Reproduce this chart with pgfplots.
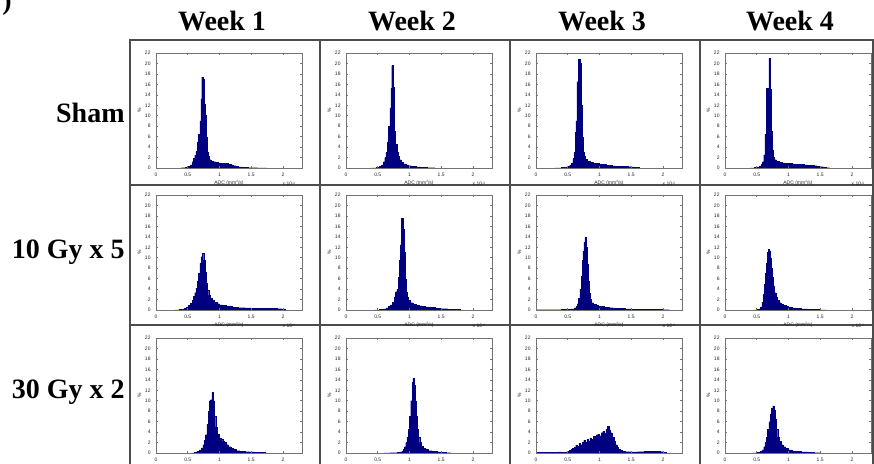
\documentclass[border=0pt]{standalone}
\usepackage{fontspec}
\setmainfont{Liberation Serif}
\newfontfamily\hel{Liberation Sans}
\usepackage{pgfplots}
\pgfplotsset{compat=1.18}
\definecolor{navyb}{RGB}{0,0,128}
\newcommand\tinyf{\hel\fontsize{2.5}{2.8}\selectfont}
\newcommand\supf[1]{\raisebox{0.9pt}{\hel\fontsize{1.6}{1.8}\selectfont #1}}
\pgfplotsset{
  adc/.style={
    scale only axis, width=73pt, height=57.5pt, anchor=south west,
    xmin=0, xmax=2.3, ymin=0, ymax=22,
    xtick={0,0.5,1,1.5,2}, xticklabels={0,0.5,1,1.5,2},
    ytick={0,2,...,22},
    tick align=inside, major tick length=1.1pt,
    axis line style={black!55, line width=0.3pt},
    every tick/.style={black!55, line width=0.25pt},
    tick label style={font=\tinyf, text=black!85},
    xticklabel style={yshift=0.8pt},
    yticklabel style={xshift=0.8pt},
    /pgf/number format/assume math mode=true,
    xlabel={ADC (mm\supf{2}/s)}, ylabel={\%},
    label style={font=\tinyf, text=black!85},
    xlabel style={yshift=5.2pt},
    ylabel style={yshift=-5pt},
    axis on top,
    after end axis/.code={\node[font=\tinyf, text=black!85, anchor=north east] at (rel axis cs:1,0) [yshift=-3.4pt] {x 10\supf{-3}};},
  },
  bars/.style={ybar interval, fill=navyb, draw=navyb, line width=0.1pt},
}
\begin{document}
\begin{tikzpicture}
\useasboundingbox (0,0) rectangle (437pt,232pt);
\clip (0,0) rectangle (437pt,232pt);
% titles and row names
\begin{scope}[every node/.style={font=\fontsize{14}{16}\selectfont\bfseries}]
\node[anchor=base] at (111pt,216.5pt) {Week 1};
\node[anchor=base] at (206pt,216.5pt) {Week 2};
\node[anchor=base] at (301pt,216.5pt) {Week 3};
\node[anchor=base] at (395pt,216.5pt) {Week 4};
\node[anchor=east, inner sep=0pt] at (62.5pt,175.5pt) {Sham};
\node[anchor=east, inner sep=0pt] at (62.5pt,106pt) {10 Gy x 5};
\node[anchor=east, inner sep=0pt] at (62.5pt,36pt) {30 Gy x 2};
\node[anchor=base west, inner sep=0pt] at (1pt,227pt) {)};
\end{scope}
% panel frame
\draw[black!70, line width=0.7pt] (65pt,212pt) rectangle (436.5pt,-10pt);
\foreach \xx in {160,255,350} \draw[black!70, line width=0.7pt] (\xx pt,212pt) -- (\xx pt,-10pt);
\foreach \yy in {139.5,69.5} \draw[black!70, line width=0.7pt] (65pt,\yy pt) -- (436.5pt,\yy pt);

% Sham
\begin{axis}[adc, at={(78pt,148pt)}]
\addplot[bars] coordinates {(0.40,0.05)(0.46,0.15)(0.50,0.3)(0.54,0.6)(0.57,1.2)(0.59,1.8)(0.61,2.4)(0.63,3.2)(0.65,5.0)(0.67,6.5)(0.69,9.0)(0.705,13.2)(0.72,17.4)(0.74,17.0)(0.76,12.3)(0.775,10.2)(0.79,6.0)(0.805,3.0)(0.82,2.2)(0.84,1.6)(0.87,1.3)(0.90,1.2)(0.94,1.1)(0.98,1.0)(1.02,0.95)(1.06,0.9)(1.10,0.85)(1.14,0.75)(1.18,0.6)(1.22,0.45)(1.26,0.3)(1.30,0.2)(1.35,0.1)(1.45,0.05)(1.60,0.03)(1.75,0)};
\end{axis}
\begin{axis}[adc, at={(173pt,148pt)}]
\addplot[bars] coordinates {(0.40,0.03)(0.48,0.1)(0.52,0.3)(0.56,0.6)(0.59,1.2)(0.61,2.0)(0.63,3.0)(0.65,5.0)(0.67,8.0)(0.69,11.5)(0.705,15.3)(0.72,19.6)(0.735,15.5)(0.75,11.0)(0.765,7.0)(0.78,4.5)(0.80,3.0)(0.82,2.2)(0.84,1.6)(0.87,1.1)(0.90,0.8)(0.94,0.6)(0.98,0.45)(1.03,0.3)(1.10,0.2)(1.18,0.1)(1.28,0.05)(1.40,0)};
\end{axis}
\begin{axis}[adc, at={(268pt,148pt)}]
\addplot[bars] coordinates {(0.30,0.03)(0.40,0.08)(0.46,0.15)(0.50,0.3)(0.53,0.6)(0.56,1.0)(0.58,1.8)(0.60,3.0)(0.615,6.8)(0.63,9.0)(0.645,16.5)(0.665,20.8)(0.69,20.0)(0.705,12.0)(0.72,6.0)(0.735,3.0)(0.75,2.2)(0.77,1.7)(0.80,1.3)(0.85,1.1)(0.90,0.95)(0.95,0.85)(1.00,0.75)(1.05,0.65)(1.10,0.55)(1.15,0.5)(1.20,0.4)(1.25,0.35)(1.30,0.3)(1.35,0.3)(1.40,0.3)(1.45,0.25)(1.50,0.2)(1.55,0.1)(1.62,0)};
\end{axis}
\begin{axis}[adc, at={(362.5pt,148pt)}]
\addplot[bars] coordinates {(0.40,0.03)(0.46,0.08)(0.50,0.2)(0.54,0.4)(0.57,0.7)(0.59,1.2)(0.61,2.5)(0.63,6.5)(0.655,15.3)(0.69,21.0)(0.71,15.0)(0.725,7.0)(0.74,3.5)(0.76,2.0)(0.78,1.6)(0.81,1.3)(0.85,1.1)(0.90,1.0)(0.95,0.9)(1.00,0.85)(1.05,0.8)(1.10,0.75)(1.15,0.7)(1.20,0.65)(1.25,0.6)(1.30,0.55)(1.35,0.5)(1.40,0.45)(1.45,0.35)(1.50,0.25)(1.55,0.15)(1.60,0.05)(1.65,0)};
\end{axis}

% 10 Gy x 5
\begin{axis}[adc, at={(78pt,77pt)}]
\addplot[bars] coordinates {(0.30,0.03)(0.36,0.08)(0.40,0.15)(0.44,0.3)(0.48,0.6)(0.51,0.9)(0.54,1.3)(0.57,1.9)(0.59,2.6)(0.61,3.3)(0.63,4.2)(0.65,5.5)(0.67,7.0)(0.69,9.0)(0.71,10.2)(0.73,10.8)(0.75,9.5)(0.77,7.2)(0.79,5.2)(0.81,3.8)(0.83,2.8)(0.86,2.2)(0.89,1.8)(0.92,1.5)(0.96,1.2)(1.00,1.0)(1.05,0.85)(1.10,0.75)(1.15,0.65)(1.20,0.55)(1.30,0.45)(1.40,0.4)(1.50,0.35)(1.60,0.3)(1.70,0.3)(1.80,0.3)(1.90,0.25)(1.98,0.2)(2.04,0)};
\end{axis}
\begin{axis}[adc, at={(173pt,77pt)}]
\addplot[bars] coordinates {(0.45,0.03)(0.52,0.08)(0.58,0.2)(0.63,0.4)(0.67,0.7)(0.70,1.0)(0.73,1.5)(0.76,2.5)(0.78,3.5)(0.80,4.0)(0.82,6.3)(0.84,9.5)(0.86,12.5)(0.875,17.5)(0.895,15.5)(0.91,11.0)(0.925,6.0)(0.94,3.5)(0.96,2.4)(0.98,1.8)(1.01,1.4)(1.05,1.1)(1.10,0.9)(1.15,0.8)(1.20,0.7)(1.25,0.6)(1.30,0.5)(1.40,0.35)(1.50,0.25)(1.60,0.15)(1.70,0.1)(1.80,0)};
\end{axis}
\begin{axis}[adc, at={(268pt,77pt)}]
\addplot[bars] coordinates {(0.00,0.05)(0.40,0.08)(0.50,0.12)(0.55,0.2)(0.60,0.4)(0.63,0.7)(0.65,1.2)(0.67,2.2)(0.69,4.0)(0.71,6.5)(0.725,9.5)(0.74,11.2)(0.755,13.0)(0.77,14.0)(0.785,12.0)(0.80,8.8)(0.815,5.5)(0.83,3.2)(0.85,2.0)(0.87,1.4)(0.90,1.1)(0.94,0.9)(0.98,0.75)(1.02,0.65)(1.08,0.55)(1.15,0.45)(1.22,0.35)(1.30,0.3)(1.40,0.2)(1.50,0.15)(1.60,0.12)(1.80,0.1)(2.00,0.05)(2.10,0)};
\end{axis}
\begin{axis}[adc, at={(362.5pt,77pt)}]
\addplot[bars] coordinates {(0.46,0.03)(0.50,0.08)(0.53,0.2)(0.56,0.6)(0.58,1.5)(0.60,3.0)(0.62,5.0)(0.635,7.0)(0.65,9.0)(0.665,11.0)(0.68,11.6)(0.695,11.3)(0.71,10.0)(0.725,8.0)(0.74,6.2)(0.76,4.6)(0.78,3.3)(0.80,2.4)(0.82,1.8)(0.85,1.4)(0.88,1.1)(0.92,0.85)(0.96,0.7)(1.00,0.55)(1.06,0.4)(1.12,0.3)(1.20,0.2)(1.30,0.12)(1.40,0.08)(1.50,0.04)(1.60,0)};
\end{axis}

% 30 Gy x 2
\begin{axis}[adc, at={(78pt,5.5pt)}]
\addplot[bars] coordinates {(0.55,0.03)(0.60,0.1)(0.64,0.3)(0.68,0.6)(0.71,1.0)(0.74,1.6)(0.76,2.4)(0.78,3.5)(0.80,5.5)(0.82,8.0)(0.84,10.0)(0.86,10.2)(0.88,11.6)(0.90,10.0)(0.92,7.0)(0.94,5.0)(0.96,3.6)(0.99,2.8)(1.02,2.6)(1.05,2.3)(1.08,2.0)(1.11,1.6)(1.14,1.2)(1.18,0.9)(1.22,0.65)(1.26,0.45)(1.32,0.35)(1.40,0.25)(1.48,0.2)(1.56,0.12)(1.64,0.08)(1.72,0.03)(1.76,0)};
\end{axis}
\begin{axis}[adc, at={(173pt,5.5pt)}]
\addplot[bars] coordinates {(0.60,0.02)(0.70,0.05)(0.80,0.1)(0.85,0.2)(0.88,0.4)(0.90,0.7)(0.92,1.2)(0.94,2.0)(0.96,3.0)(0.98,4.5)(1.00,7.0)(1.02,10.0)(1.04,13.5)(1.055,14.3)(1.07,13.0)(1.085,10.0)(1.10,7.0)(1.12,4.5)(1.14,3.0)(1.16,2.0)(1.18,1.3)(1.21,0.9)(1.25,0.65)(1.30,0.45)(1.36,0.3)(1.43,0.2)(1.50,0.1)(1.58,0.05)(1.65,0)};
\end{axis}
\begin{axis}[adc, at={(268pt,5.5pt)}]
\addplot[bars] coordinates {(0.00,0.1)(0.10,0.08)(0.20,0.1)(0.30,0.12)(0.35,0.2)(0.40,0.15)(0.45,0.2)(0.50,0.35)(0.525,0.5)(0.55,0.7)(0.575,0.9)(0.60,1.1)(0.625,1.5)(0.65,1.3)(0.675,1.8)(0.70,1.6)(0.725,2.1)(0.75,2.4)(0.775,2.0)(0.80,2.6)(0.825,2.3)(0.85,2.9)(0.875,2.6)(0.90,3.2)(0.925,3.0)(0.95,3.5)(0.975,3.6)(1.00,3.3)(1.025,3.9)(1.05,4.1)(1.075,3.8)(1.10,4.5)(1.125,5.1)(1.15,4.4)(1.175,3.9)(1.20,3.0)(1.225,2.2)(1.25,1.6)(1.275,1.1)(1.30,0.7)(1.325,0.5)(1.35,0.35)(1.40,0.25)(1.50,0.2)(1.60,0.25)(1.70,0.3)(1.80,0.35)(1.90,0.3)(1.95,0.25)(2.00,0.15)(2.05,0)};
\end{axis}
\begin{axis}[adc, at={(362.5pt,5.5pt)}]
\addplot[bars] coordinates {(0.45,0.03)(0.50,0.1)(0.55,0.3)(0.58,0.6)(0.61,1.2)(0.63,2.0)(0.65,3.0)(0.67,4.5)(0.69,6.0)(0.71,7.5)(0.73,8.6)(0.75,9.0)(0.77,8.3)(0.79,6.5)(0.81,4.5)(0.83,3.0)(0.85,2.2)(0.88,1.6)(0.91,1.2)(0.95,0.9)(1.00,0.6)(1.05,0.4)(1.10,0.3)(1.20,0.2)(1.30,0.1)(1.40,0.05)(1.50,0)};
\end{axis}
\end{tikzpicture}
\end{document}
